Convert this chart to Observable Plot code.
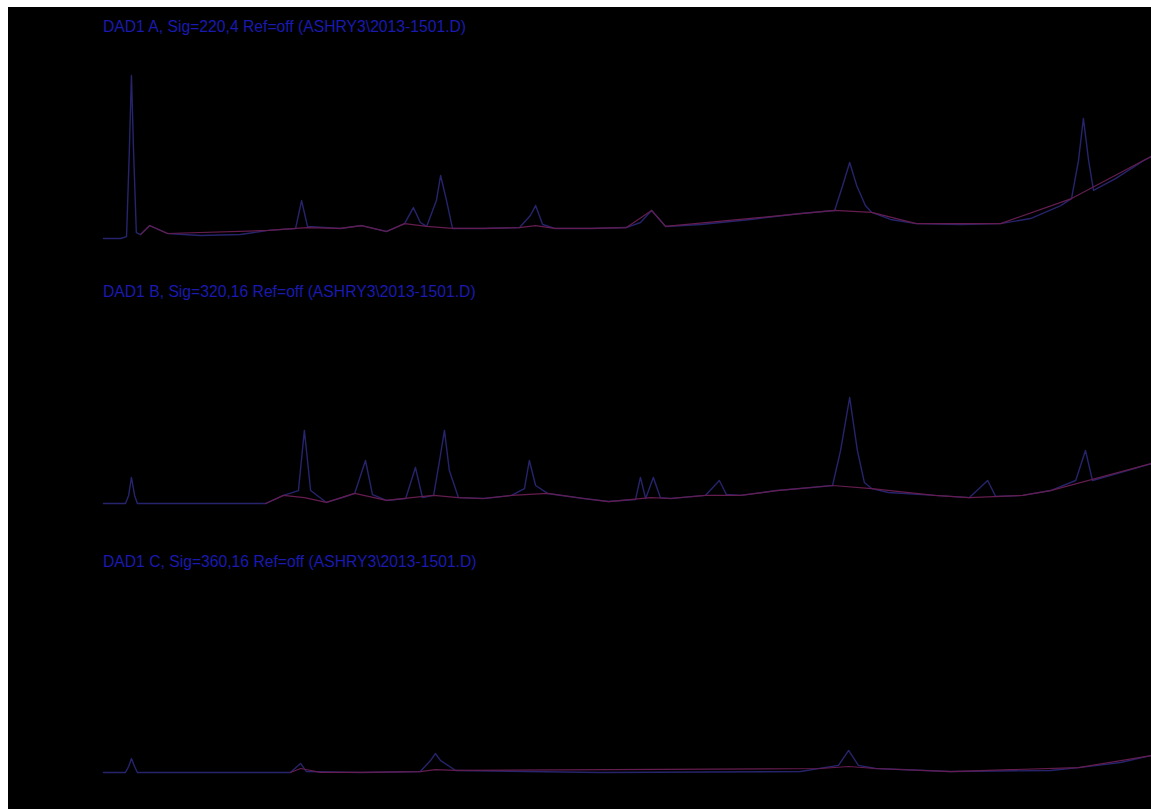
<!DOCTYPE html>
<html>
<head>
<meta charset="utf-8">
<script src="https://cdn.jsdelivr.net/npm/d3@7"></script>
<script src="https://cdn.jsdelivr.net/npm/@observablehq/plot@0.6"></script>
<style>
  html, body { margin: 0; padding: 0; background: #fff; }
  #frame { position: absolute; left: 8px; top: 7px; width: 1143px; height: 802px; background: #000; overflow: hidden; }
  .ttl { position: absolute; left: 95px; font-family: "Liberation Sans", Arial, sans-serif; font-size: 15.7px; line-height: 16px; color: #1a1ab0; white-space: nowrap; }
  .pnl { position: absolute; left: 0; }
</style>
</head>
<body>
<div id="frame"></div>
<script>
// Retention time (min) and absorbance (mAU)
const titles = [
  "DAD1 A, Sig=220,4 Ref=off (ASHRY3\\2013-1501.D)",
  "DAD1 B, Sig=320,16 Ref=off (ASHRY3\\2013-1501.D)",
  "DAD1 C, Sig=360,16 Ref=off (ASHRY3\\2013-1501.D)"
];
const timeDomain = [0, 30];
const signalA = [[0,1.1],[0.49,1.1],[0.66,2.2],[0.74,50],[0.80,91.7],[0.86,50],[0.94,4.4],[1.06,3.3],[1.32,8.3],[1.83,3.9],[2.78,2.8],[3.92,3.3],[4.72,5.6],[5.50,6.7],[5.67,22.2],[5.84,7.8],[6.78,6.7],[7.39,8.3],[8.10,5.0],[8.62,9.4],[8.87,18.3],[9.07,10.0],[9.25,7.8],[9.53,22.2],[9.65,36.1],[9.82,22.2],[9.99,6.7],[10.88,6.7],[11.91,7.2],[12.22,13.9],[12.37,19.4],[12.57,8.9],[12.91,6.7],[13.94,6.7],[14.97,7.2],[15.37,10.0],[15.69,16.7],[16.09,7.8],[17.09,8.9],[18.52,11.7],[19.95,15.0],[20.93,16.7],[21.16,30.6],[21.36,43.3],[21.56,30.6],[21.81,19.4],[21.99,15.6],[22.53,11.7],[23.27,9.4],[24.53,8.9],[25.68,9.4],[26.54,12.2],[27.40,19.4],[27.71,23.3],[27.91,44.4],[28.05,67.8],[28.20,44.4],[28.34,27.8],[28.97,34.4],[29.77,44.4],[30.00,46.7]];
const baselineA = [[1.06,3.3],[1.32,8.3],[1.83,3.9],[4.72,5.6],[5.50,6.7],[5.84,7.2],[6.78,6.7],[7.39,8.3],[8.10,5.0],[8.62,9.4],[9.25,7.8],[9.99,6.7],[10.88,6.7],[11.91,7.2],[12.37,8.3],[12.91,6.7],[13.94,6.7],[14.97,7.2],[15.69,16.7],[16.09,7.8],[20.93,16.7],[21.99,15.6],[23.27,9.4],[25.68,9.4],[27.71,23.3],[29.77,44.4],[30.00,46.7]];
const signalB = [[0,1.1],[0.63,1.1],[0.72,5.6],[0.80,15.6],[0.89,5.6],[0.97,1.1],[4.64,1.1],[5.15,5.6],[5.58,8.3],[5.75,41.7],[5.93,8.3],[6.38,1.7],[6.93,5.0],[7.19,6.7],[7.50,25.0],[7.70,6.1],[8.10,2.8],[8.65,3.9],[8.93,21.1],[9.13,4.4],[9.45,5.6],[9.62,25.0],[9.76,41.7],[9.90,19.4],[10.16,4.4],[10.88,3.9],[11.68,5.6],[12.05,9.4],[12.19,25.0],[12.37,11.1],[12.71,6.7],[13.74,3.9],[14.46,2.2],[15.23,3.3],[15.37,15.6],[15.52,3.9],[15.74,15.6],[15.94,4.4],[16.23,3.9],[17.23,5.6],[17.63,13.9],[17.83,6.1],[18.24,5.6],[19.27,8.3],[20.27,10.0],[20.87,11.1],[21.10,30.6],[21.36,60.0],[21.58,30.6],[21.78,12.8],[21.99,9.4],[22.47,7.2],[23.79,5.6],[24.79,4.4],[25.31,13.9],[25.54,5.0],[26.31,5.6],[27.11,8.3],[27.83,13.9],[28.11,30.6],[28.31,13.9],[29.11,18.3],[30.00,23.3]];
const baselineB = [[4.64,1.1],[5.15,5.6],[5.75,4.4],[6.38,1.7],[7.19,6.7],[8.10,2.8],[8.82,4.4],[9.45,5.6],[10.16,4.4],[10.88,3.9],[11.68,5.6],[12.71,6.7],[13.74,3.9],[14.46,2.2],[15.66,4.4],[16.23,3.9],[17.23,5.6],[18.24,5.6],[19.27,8.3],[20.87,11.1],[21.99,9.4],[23.79,5.6],[24.79,4.4],[26.31,5.6],[27.11,8.3],[30.00,23.3]];
const signalC = [[0,1.7],[0.63,1.7],[0.72,5.0],[0.80,9.4],[0.89,5.0],[0.97,1.7],[5.35,1.7],[5.64,6.7],[5.81,2.2],[7.36,1.7],[9.07,2.2],[9.36,8.3],[9.50,12.2],[9.65,8.3],[10.08,2.8],[14.23,1.7],[19.95,2.2],[21.04,5.6],[21.33,13.9],[21.61,5.6],[22.10,3.9],[24.25,2.2],[27.11,2.8],[27.91,4.4],[29.11,7.2],[30.00,11.1]];
const baselineC = [[5.35,1.7],[5.64,3.9],[6.21,1.7],[7.36,1.7],[9.07,2.2],[9.50,3.3],[10.08,2.8],[20.52,3.9],[21.33,5.0],[22.10,3.9],[24.25,2.2],[27.91,4.4],[30.00,11.1]];

const signals = [signalA, signalB, signalC];
const baselines = [baselineA, baselineB, baselineC];
const yDomain = [0, 100];

const frame = document.getElementById("frame");
const titleTops = [12, 277, 547];
const panelTops = [43, 308, 578];

for (let i = 0; i < 3; i++) {
  const t = document.createElement("div");
  t.className = "ttl";
  t.style.top = titleTops[i] + "px";
  t.textContent = titles[i];
  frame.appendChild(t);

  const chart = Plot.plot({
    width: 1143,
    height: 200,
    marginLeft: 95,
    marginRight: 0,
    marginTop: 10,
    marginBottom: 10,
    x: {domain: timeDomain, axis: null},
    y: {domain: yDomain, axis: null},
    style: {background: "transparent", overflow: "visible"},
    marks: [
      Plot.line(signals[i], {x: d => d[0], y: d => d[1], stroke: "#26246c", strokeWidth: 1.4}),
      Plot.line(baselines[i], {x: d => d[0], y: d => d[1], stroke: "#651d4f", strokeWidth: 1.2})
    ]
  });
  const wrap = document.createElement("div");
  wrap.className = "pnl";
  wrap.style.top = panelTops[i] + "px";
  wrap.appendChild(chart);
  frame.appendChild(wrap);
}
</script>
</body>
</html>
